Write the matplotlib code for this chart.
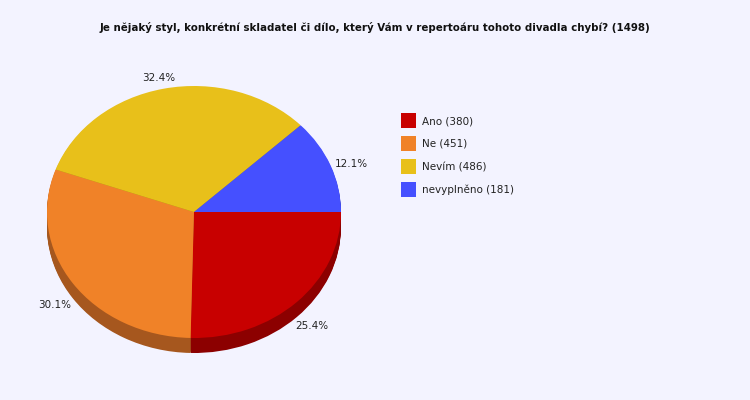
import numpy as np
import matplotlib
matplotlib.use('Agg')
import matplotlib.pyplot as plt
from matplotlib.patches import Rectangle

# data
title = 'Je nějaký styl, konkrétní skladatel či dílo, který Vám v repertoáru tohoto divadla chybí? (1498)'
categories = ['Ano', 'Ne', 'Nevím', 'nevyplněno']
counts = [380, 451, 486, 181]
top_colors = ['#c80000', '#f08228', '#e8c01a', '#4550ff']
side_colors = ['#8c0000', '#a6571e', '#a68a12', '#3038b0']

bg = '#f3f3ff'
W, H = 750, 400
cx, cy = 194, 212      # pie centre, pixels
rx, ry = 147, 126      # pie radii, pixels
depth = 15             # pie thickness, pixels

fig = plt.figure(figsize=(W / 100, H / 100), dpi=100, facecolor=bg)

# pie axes in units of the pie radius, so radius 1 gives the ellipse
ax = fig.add_axes([0, 0, 1, 1])
for k in range(depth, 0, -1):
    ax.pie(counts, colors=side_colors, startangle=0, counterclock=False,
           radius=1, center=(0, -k / ry), wedgeprops=dict(linewidth=0))
ax.pie(counts, colors=top_colors, startangle=0, counterclock=False,
       radius=1, center=(0, 0), wedgeprops=dict(linewidth=0))
ax.set_aspect('auto')
ax.set_xlim(-cx / rx, (W - cx) / rx)
ax.set_ylim(-(H - cy) / ry, cy / ry)
ax.axis('off')

# percentage labels
total = sum(counts)
ends = -np.cumsum(counts) / total * 360
mids = np.radians(ends + np.array(counts) / total * 180)
for c, a in zip(counts, mids):
    x = 1.15 * np.cos(a)
    y = 1.13 * np.sin(a)
    if y < 0:
        y -= 12 / ry
    else:
        y -= 5 / ry
    ax.text(x, y, f'{c / total * 100:.1f}%', ha='center', va='center',
            fontsize=7.5, color='#222222')

# overlay in pixel coordinates for title and legend
lay = fig.add_axes([0, 0, 1, 1], facecolor='none')
lay.set_xlim(0, W)
lay.set_ylim(H, 0)
lay.axis('off')

lay.text(375, 27.5, title, ha='center', va='center', fontsize=7.4,
         fontweight='bold', color='#111111')

for i, (name, c) in enumerate(zip(categories, counts)):
    y0 = 113 + i * 23
    lay.add_patch(Rectangle((401, y0), 15, 15, facecolor=top_colors[i], edgecolor='none'))
    lay.text(422, y0 + 8, f'{name} ({c})', ha='left', va='center',
             fontsize=7.5, color='#222222')

fig.savefig('out.png', dpi=100, facecolor=bg)
